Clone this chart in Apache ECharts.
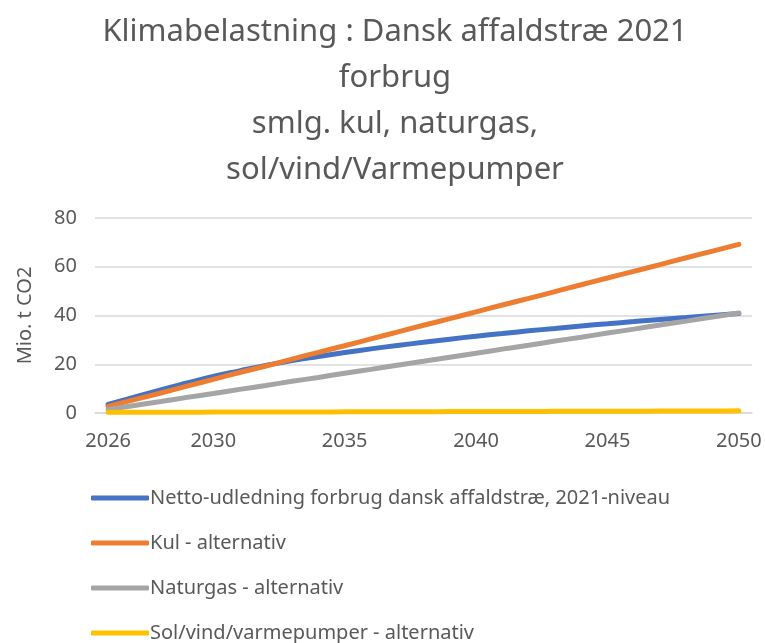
<!DOCTYPE html>
<html>
<head>
<meta charset="utf-8">
<script src="https://cdn.jsdelivr.net/npm/echarts@6/dist/echarts.min.js"></script>
<style>
  html, body { margin: 0; padding: 0; background: #fff; }
  #chart { width: 765px; height: 643px; }
</style>
</head>
<body>
<div id="chart"></div>
<script>
// years 2026..2050
const years = ['2026','2027','2028','2029','2030','2031','2032','2033','2034','2035','2036','2037','2038',
  '2039','2040','2041','2042','2043','2044','2045','2046','2047','2048','2049','2050'];
const shownYears = ['2026','2030','2035','2040','2045','2050'];

const netto = [3.5, 6.5, 9.5, 12.3, 15.0, 17.3, 19.5, 21.5, 23.2, 24.8, 26.3, 27.7, 29.0,
  30.3, 31.5, 32.6, 33.7, 34.7, 35.7, 36.6, 37.5, 38.4, 39.2, 40.0, 40.8];
const kul = [2.7, 5.5, 8.2, 11.0, 13.8, 16.6, 19.3, 22.1, 24.9, 27.6, 30.4, 33.2, 36.0,
  38.7, 41.5, 44.3, 47.0, 49.8, 52.6, 55.4, 58.1, 60.9, 63.7, 66.4, 69.2];
const naturgas = [1.4, 3.1, 4.7, 6.4, 8.0, 9.7, 11.3, 13.0, 14.6, 16.3, 17.9, 19.6, 21.2,
  22.9, 24.5, 26.2, 27.8, 29.5, 31.1, 32.8, 34.4, 36.1, 37.7, 39.4, 41.0];
const solVind = [0.3, 0.3, 0.3, 0.3, 0.4, 0.4, 0.4, 0.4, 0.4, 0.5, 0.5, 0.5, 0.5,
  0.6, 0.6, 0.6, 0.6, 0.7, 0.7, 0.7, 0.7, 0.8, 0.8, 0.8, 0.9];

const names = [
  'Netto-udledning forbrug dansk affaldstræ, 2021-niveau',
  'Kul - alternativ',
  'Naturgas - alternativ',
  'Sol/vind/varmepumper - alternativ'
];
const colors = ['#4472C4', '#ED7D31', '#A5A5A5', '#FFC000'];
const yTicks = [0, 20, 40, 60, 80];

const font = 'Noto Sans';
const chart = echarts.init(document.getElementById('chart'));

function line(name, data, color) {
  return {
    name: name,
    type: 'line',
    data: data,
    smooth: true,
    symbol: 'none',
    lineStyle: { width: 5, color: color, cap: 'round' },
    itemStyle: { color: color }
  };
}

chart.setOption({
  animation: false,
  color: colors,
  title: {
    text: 'Klimabelastning : Dansk affaldstræ 2021\nforbrug\nsmlg. kul, naturgas,\nsol/vind/Varmepumper',
    left: 390,
    textAlign: 'center',
    top: 4,
    textStyle: { fontFamily: font, fontSize: 31, fontWeight: 'normal', color: '#595959', lineHeight: 46 }
  },
  legend: {
    orient: 'vertical',
    left: 86,
    top: 479,
    height: 220,
    itemGap: 17,
    itemWidth: 58,
    itemHeight: 5,
    icon: 'roundRect',
    textStyle: { fontFamily: font, fontSize: 20, lineHeight: 28, color: '#595959', padding: [0, 0, 0, -4] },
    data: names
  },
  grid: { left: 95, right: 13, top: 218, bottom: 230, containLabel: false },
  xAxis: {
    type: 'category',
    data: years,
    boundaryGap: true,
    axisLine: { lineStyle: { color: '#d9d9d9', width: 1.5 } },
    axisTick: { show: false },
    axisLabel: {
      interval: function (i, v) { return shownYears.indexOf(v) >= 0; },
      fontFamily: font, fontSize: 20, color: '#595959', margin: 18
    }
  },
  yAxis: {
    type: 'value',
    min: yTicks[0],
    max: yTicks[yTicks.length - 1],
    interval: 20,
    name: 'Mio. t CO2',
    nameLocation: 'middle',
    nameGap: 60,
    nameTextStyle: { fontFamily: font, fontSize: 20, color: '#595959' },
    axisLine: { show: false },
    axisTick: { show: false },
    splitLine: { lineStyle: { color: '#d9d9d9', width: 1.5 } },
    axisLabel: { fontFamily: font, fontSize: 20, color: '#595959', margin: 18 }
  },
  series: [
    line(names[0], netto, colors[0]),
    line(names[1], kul, colors[1]),
    line(names[2], naturgas, colors[2]),
    line(names[3], solVind, colors[3])
  ]
});
</script>
</body>
</html>
